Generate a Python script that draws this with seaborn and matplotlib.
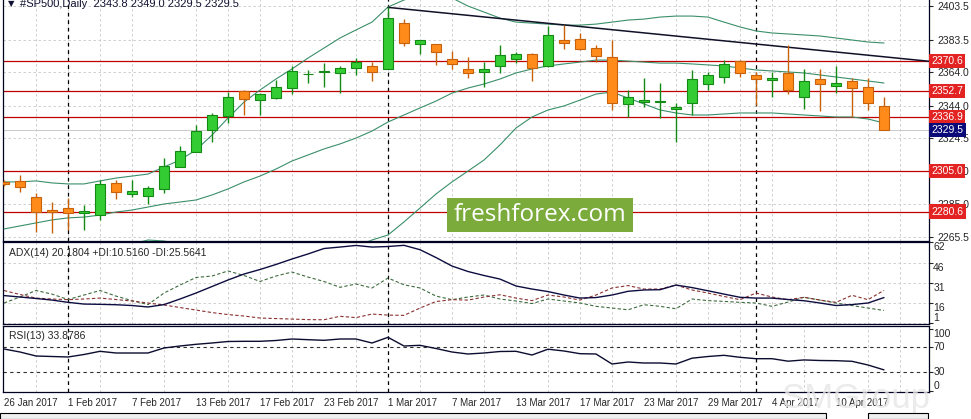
import numpy as np
import matplotlib
matplotlib.use("Agg")
import matplotlib.pyplot as plt
from matplotlib.patches import Rectangle
import seaborn as sns

# daily S&P 500 candles, 26 Jan 2017 .. 13 Apr 2017
opens = [2298.4, 2299.0, 2289.2, 2281.6, 2282.7, 2279.7, 2278.6, 2297.6, 2291.0, 2290.2,
         2294.4, 2307.5, 2316.5, 2329.4, 2338.0, 2352.7, 2347.3, 2348.7, 2354.7, 2362.6,
         2363.8, 2363.3, 2366.3, 2367.7, 2365.7, 2393.2, 2380.6, 2380.8, 2371.7, 2365.9,
         2363.9, 2367.8, 2371.7, 2374.8, 2367.7, 2383.2, 2383.6, 2378.2, 2373.2, 2344.8,
         2346.4, 2345.9, 2341.8, 2345.4, 2356.7, 2360.9, 2370.6, 2362.3, 2359.3, 2363.3,
         2349.3, 2359.9, 2355.9, 2358.7, 2355.3, 2343.8]
highs = [2299.6, 2302.5, 2291.8, 2286.6, 2288.8, 2284.6, 2299.6, 2299.6, 2299.6, 2296.0,
         2312.5, 2320.0, 2332.4, 2339.6, 2352.3, 2353.3, 2351.4, 2359.3, 2367.7, 2365.3,
         2369.6, 2367.8, 2372.3, 2369.8, 2402.7, 2395.7, 2383.5, 2381.0, 2376.8, 2373.2,
         2370.2, 2380.2, 2376.2, 2375.3, 2391.6, 2392.2, 2387.2, 2380.2, 2383.2, 2353.3,
         2360.5, 2357.3, 2345.4, 2365.3, 2364.3, 2371.2, 2371.2, 2364.3, 2364.3, 2380.2,
         2365.7, 2365.7, 2367.7, 2360.3, 2360.3, 2349.0]
lows = [2296.0, 2292.4, 2268.5, 2267.9, 2269.7, 2269.7, 2275.7, 2288.2, 2289.2, 2285.2,
        2291.6, 2307.1, 2316.0, 2322.4, 2333.4, 2338.4, 2338.4, 2347.9, 2350.9, 2357.3,
        2355.3, 2351.3, 2362.3, 2358.7, 2365.7, 2379.8, 2374.8, 2368.3, 2365.9, 2360.3,
        2355.0, 2363.3, 2369.3, 2358.7, 2367.3, 2377.8, 2377.2, 2370.2, 2341.4, 2337.4,
        2343.3, 2336.4, 2322.4, 2338.4, 2353.3, 2357.7, 2361.3, 2344.4, 2349.3, 2350.7,
        2341.8, 2340.8, 2351.7, 2337.0, 2341.4, 2329.5]
closes = [2297.2, 2295.2, 2280.4, 2280.3, 2279.7, 2281.1, 2297.0, 2292.6, 2293.0, 2294.6,
          2307.9, 2316.9, 2328.8, 2338.4, 2349.3, 2347.8, 2350.8, 2354.9, 2364.7, 2363.0,
          2364.4, 2366.6, 2370.2, 2364.3, 2396.2, 2381.2, 2383.2, 2375.8, 2368.7, 2363.3,
          2365.9, 2374.2, 2374.6, 2366.3, 2386.2, 2381.6, 2377.8, 2373.8, 2345.4, 2349.3,
          2347.3, 2346.8, 2343.0, 2359.9, 2362.3, 2368.9, 2363.3, 2359.7, 2360.7, 2353.3,
          2358.7, 2356.7, 2357.3, 2354.3, 2345.4, 2329.5]

# Bollinger bands (20)
bb_upper = [2298.4, 2298.4, 2299.0, 2297.8, 2297.2, 2297.2, 2299.0, 2300.7, 2301.9, 2303.1,
            2307.3, 2311.5, 2317.5, 2326.4, 2336.6, 2346.1, 2353.3, 2359.9, 2365.9, 2372.4,
            2378.4, 2384.4, 2389.2, 2393.9, 2402.9, 2407.1, 2410.1, 2410.7, 2408.3, 2403.5,
            2399.9, 2396.3, 2393.9, 2393.3, 2392.7, 2392.1, 2392.1, 2392.7, 2393.9, 2395.1,
            2395.7, 2396.9, 2397.5, 2397.5, 2396.9, 2393.9, 2391.0, 2388.6, 2387.4, 2386.8,
            2386.2, 2385.6, 2384.4, 2383.2, 2382.0, 2381.4]
bb_mid = [2270.3, 2272.1, 2273.9, 2275.7, 2276.9, 2277.4, 2278.6, 2280.4, 2281.6, 2283.4,
          2285.2, 2286.4, 2287.6, 2290.6, 2294.2, 2298.4, 2301.9, 2306.1, 2310.9, 2314.5,
          2318.1, 2321.1, 2324.6, 2328.8, 2334.2, 2338.4, 2342.6, 2346.7, 2351.5, 2354.5,
          2356.9, 2359.9, 2363.5, 2365.9, 2367.7, 2368.9, 2370.0, 2371.2, 2371.2, 2370.6,
          2370.0, 2369.4, 2369.4, 2368.9, 2368.3, 2367.7, 2366.5, 2365.3, 2364.7, 2364.1,
          2363.5, 2362.3, 2361.1, 2359.9, 2358.7, 2357.5]
bb_lower = [2242.2, 2245.8, 2248.8, 2253.6, 2256.6, 2257.6, 2258.2, 2260.1, 2261.3, 2263.7,
            2263.1, 2261.3, 2257.7, 2254.8, 2251.8, 2250.7, 2250.5, 2252.3, 2255.9, 2256.6,
            2257.8, 2257.8, 2260.0, 2263.7, 2266.7, 2274.5, 2282.8, 2291.2, 2298.4, 2304.9,
            2311.5, 2320.5, 2330.6, 2337.2, 2341.4, 2343.8, 2347.3, 2350.9, 2352.1, 2348.5,
            2345.0, 2341.4, 2339.6, 2338.4, 2338.4, 2339.0, 2339.6, 2339.6, 2339.6, 2339.0,
            2338.4, 2337.8, 2337.2, 2337.2, 2336.0, 2333.6]

# ADX(14) and directional indicators
adx = [21.7, 20.6, 19.5, 18.3, 16.6, 15.3, 15.1, 14.8, 14.2, 13.1,
       14.9, 19.1, 23.6, 28.5, 33.4, 37.9, 41.3, 45.1, 49.2, 53.0,
       57.1, 58.2, 59.4, 58.2, 58.6, 59.5, 56.2, 50.3, 43.9, 39.8,
       36.8, 34.1, 28.9, 26.6, 24.7, 22.1, 19.8, 20.2, 22.1, 24.9,
       25.9, 26.1, 29.6, 27.7, 25.3, 22.8, 20.4, 19.8, 19.8, 18.7,
       17.8, 16.1, 14.2, 14.9, 16.1, 20.2]
plus_di = [16.1, 20.6, 25.5, 22.8, 18.7, 22.1, 25.5, 21.3, 17.9, 14.9,
           23.6, 29.6, 35.3, 36.4, 40.2, 36.8, 32.3, 36.4, 39.4, 35.6,
           32.3, 27.9, 30.4, 27.4, 34.9, 29.8, 27.4, 21.3, 18.6, 20.6,
           22.1, 19.1, 17.6, 15.7, 19.1, 17.6, 16.1, 13.6, 12.3, 11.0,
           14.8, 13.6, 11.8, 19.1, 17.9, 17.3, 16.6, 16.1, 13.6, 16.8,
           20.4, 18.3, 16.1, 14.2, 12.3, 10.5]
minus_di = [25.5, 22.5, 19.8, 19.1, 18.6, 19.1, 19.8, 18.7, 17.6, 16.1,
            14.6, 12.7, 10.8, 8.9, 7.4, 6.3, 4.8, 4.4, 4.0, 3.6,
            3.5, 6.1, 5.1, 7.8, 7.0, 6.8, 12.3, 17.2, 18.6, 18.3,
            20.6, 22.3, 19.8, 17.9, 22.1, 20.6, 18.3, 22.1, 27.4, 29.2,
            26.6, 26.6, 29.6, 25.9, 23.6, 21.0, 18.6, 23.6, 20.6, 18.6,
            20.4, 18.3, 16.6, 21.9, 18.6, 25.6]

# RSI(13)
rsi = [67.3, 62.5, 56.1, 55.3, 54.5, 58.5, 63.6, 60.9, 60.9, 60.9,
       68.9, 72.1, 74.8, 76.9, 79.3, 79.6, 79.6, 80.9, 83.3, 82.2,
       81.2, 83.3, 83.3, 76.9, 86.0, 72.1, 73.2, 68.1, 62.5, 59.3,
       60.9, 63.3, 63.6, 57.7, 67.0, 64.1, 59.8, 59.3, 43.3, 46.5,
       44.9, 44.9, 43.3, 52.6, 55.3, 57.2, 54.0, 51.8, 51.8, 47.8,
       49.8, 48.9, 48.6, 47.6, 41.7, 33.9]

date_bars = [0, 4, 8, 12, 16, 20, 24, 28, 32, 36, 40, 44, 48, 52]
date_labels = ["26 Jan 2017", "1 Feb 2017", "7 Feb 2017", "13 Feb 2017", "17 Feb 2017",
               "23 Feb 2017", "1 Mar 2017", "7 Mar 2017", "13 Mar 2017", "17 Mar 2017",
               "23 Mar 2017", "29 Mar 2017", "4 Apr 2017", "10 Apr 2017"]
month_starts = [4, 24, 47]

levels = [2370.6, 2352.7, 2336.9, 2305.0, 2280.6]
last_price = 2329.5
trend_x = [24, 57.8]
trend_y = [2402.7, 2370.5]

price_ticks = [2403.5, 2383.5, 2364.0, 2344.0, 2324.5, 2305.0, 2285.0, 2265.5]
adx_ticks = [62, 46, 31, 16, 1]
rsi_ticks = [100, 70, 30, 0]

sns.set_style("white")
plt.rcParams["font.family"] = ["Liberation Sans", "DejaVu Sans"]

W, H = 971, 419
fig = plt.figure(figsize=(W / 100, H / 100), dpi=100)


def add_ax(left, top, right, bottom):
    return fig.add_axes([left / W, 1 - bottom / H, (right - left) / W, (bottom - top) / H])


grid_kw = dict(color="#c8c8c8", ls=(0, (3, 3)), lw=0.6)
bars = np.arange(len(opens))
xlim = (-0.0625, 57.8125)
txt = 7.5

ax = add_ax(3, -1, 929, 241)
ax_adx = add_ax(3, 242, 929, 324)
ax_rsi = add_ax(3, 326, 929, 392)

for a in (ax, ax_adx, ax_rsi):
    a.set_xlim(*xlim)
    a.set_xticks(np.arange(0, 58, 2), minor=True)
    a.grid(which="minor", axis="x", **grid_kw)
    a.tick_params(axis="x", which="both", length=0, labelbottom=False)
    for s in a.spines.values():
        s.set_color("#000020")
        s.set_linewidth(0.9)
    for m in month_starts:
        a.axvline(m, color="black", ls=(0, (3, 3)), lw=0.9, zorder=1)

# ---- price panel ----
ax.set_ylim(2263.1, 2407.7)
ax.yaxis.tick_right()
ax.set_yticks(price_ticks, [f"{t:.1f}" for t in price_ticks])
ax.tick_params(axis="y", labelsize=txt, length=3, pad=3)
ax.grid(axis="y", **grid_kw)

for lv in levels:
    ax.axhline(lv, color="#c00000", lw=0.9, zorder=2)
    ax.text(1.0025, lv, f"{lv:.1f}", transform=ax.get_yaxis_transform(), color="white",
            fontsize=txt, va="center", ha="left", clip_on=False, zorder=6,
            bbox=dict(boxstyle="square,pad=0.22", fc="#e32222", ec="none"))
ax.axhline(last_price, color="#c0c0c0", lw=0.6, zorder=1)
ax.text(1.0025, last_price, f"{last_price:.1f}", transform=ax.get_yaxis_transform(),
        color="white", fontsize=txt, va="center", ha="left", clip_on=False, zorder=6,
        bbox=dict(boxstyle="square,pad=0.22", fc="#0a0a78", ec="none"))

band_color = "#3a8f6a"
for band in (bb_upper, bb_mid, bb_lower):
    sns.lineplot(x=bars, y=band, ax=ax, color=band_color, lw=0.8, zorder=3)

ax.plot(trend_x, trend_y, color="#101028", lw=1.1, zorder=3)

o = np.array(opens)
c = np.array(closes)
bull = c >= o
body_fill = np.where(bull, "#33cc33", "#ff8c1a")
body_edge = np.where(bull, "#138a13", "#c8620a")
ax.vlines(bars, lows, highs, colors=body_edge, lw=1.0, zorder=4)
ax.bar(bars, np.abs(c - o), bottom=np.minimum(o, c), width=0.62,
       color=body_fill, edgecolor=body_edge, lw=0.8, zorder=5)
ax.set_xlabel("")
ax.set_ylabel("")

# ---- ADX panel ----
ax_adx.set_ylim(0.3, 62)
ax_adx.yaxis.tick_right()
ax_adx.set_yticks(adx_ticks, [""] * len(adx_ticks))
ax_adx.tick_params(axis="y", length=3)
ax_adx.grid(axis="y", **grid_kw)
for t in adx_ticks:
    ax_adx.text(1.0045, t, str(t), transform=ax_adx.get_yaxis_transform(), fontsize=txt,
                va="bottom" if t == 1 else "top", ha="left", clip_on=False)
sns.lineplot(x=bars, y=plus_di, ax=ax_adx, color="#3d6b3d", lw=0.8, ls=(0, (3, 2)))
sns.lineplot(x=bars, y=minus_di, ax=ax_adx, color="#8b3030", lw=0.8, ls=(0, (3, 2)))
sns.lineplot(x=bars, y=adx, ax=ax_adx, color="#0c0c40", lw=1.0)
ax_adx.text(0.006, 0.86, "ADX(14) 20.1804 +DI:10.5160 -DI:25.5641", transform=ax_adx.transAxes,
            fontsize=txt, va="center", ha="left")
ax_adx.set_xlabel("")
ax_adx.set_ylabel("")

# ---- RSI panel ----
ax_rsi.set_ylim(-1.5, 104.1)
ax_rsi.yaxis.tick_right()
ax_rsi.set_yticks(rsi_ticks, [""] * len(rsi_ticks))
ax_rsi.tick_params(axis="y", length=3)
rsi_va = {100: "top", 70: "center", 30: "center", 0: "bottom"}
for t in rsi_ticks:
    ax_rsi.text(1.0045, t, str(t), transform=ax_rsi.get_yaxis_transform(), fontsize=txt,
                va=rsi_va[t], ha="left", clip_on=False)
for lv in (70, 30):
    ax_rsi.axhline(lv, color="#303030", lw=0.8, ls=(0, (3, 3)))
sns.lineplot(x=bars, y=rsi, ax=ax_rsi, color="#0c0c30", lw=1.0)
ax_rsi.text(0.006, 0.85, "RSI(13) 33.8786", transform=ax_rsi.transAxes,
            fontsize=txt, va="center", ha="left")
ax_rsi.set_xticks(date_bars, date_labels)
ax_rsi.tick_params(axis="x", which="major", length=3, labelbottom=True, labelsize=7, pad=1.5)
for lbl in ax_rsi.get_xticklabels():
    lbl.set_ha("left")
ax_rsi.set_xlabel("")
ax_rsi.set_ylabel("")

# ---- header, watermarks, tab strip ----
fig.text(8 / W, 1 - 4 / H, "\u25bc", fontsize=6, color="#111133", va="center", ha="left",
         family="DejaVu Sans")
fig.text(20 / W, 1 - 4 / H, "#SP500,Daily  2343.8 2349.0 2329.5 2329.5", fontsize=8,
         color="#111133", va="center", ha="left")

fig.add_artist(Rectangle((447 / W, 1 - 232 / H), 186 / W, 34 / H, transform=fig.transFigure,
                         fc="#7aab3b", ec="none", zorder=5))
fig.text(540 / W, 1 - 215 / H, "freshforex.com", family="Open Sans", fontsize=17.5,
         color="white", ha="center", va="center", zorder=6)
fig.text(856 / W, 1 - 398 / H, "SMGroup", fontsize=25, color="#e6e6e6", alpha=0.8,
         ha="center", va="center", zorder=0.5)

fig.add_artist(Rectangle((0, 0), 826 / W, 6 / H, transform=fig.transFigure,
                         fc="#efefef", ec="black", lw=0.8))
fig.add_artist(Rectangle((868 / W, 0), 60 / W, 6 / H, transform=fig.transFigure,
                         fc="#efefef", ec="black", lw=0.8))

fig.savefig("out.png", dpi=100, facecolor="white")
